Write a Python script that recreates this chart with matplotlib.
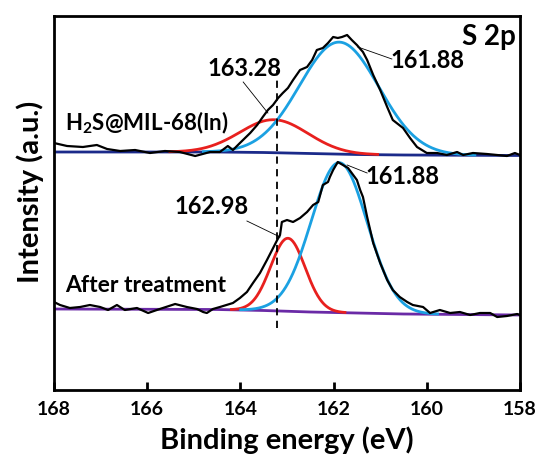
import numpy as np
import matplotlib
matplotlib.use("Agg")
import matplotlib.pyplot as plt

# raw S 2p spectra (binding energy in eV, intensity in a.u.)
top_be = [168.0, 167.72, 167.38, 167.08, 166.86, 166.58, 166.26, 165.94, 165.62, 165.30,
          164.97, 164.65, 164.44, 164.27, 164.16, 164.01, 163.79, 163.64, 163.52, 163.41,
          163.30, 163.19, 163.09, 162.98, 162.87, 162.72, 162.57, 162.46, 162.36, 162.23,
          162.12, 162.01, 161.91, 161.82, 161.71, 161.61, 161.50, 161.37, 161.28, 161.15,
          161.00, 160.85, 160.73, 160.51, 160.36, 160.21, 160.00, 159.78, 159.57, 159.35,
          159.22, 159.01, 158.71, 158.49, 158.28, 158.11, 158.0]
top_int = [247, 244, 243, 245, 241, 239, 240, 237, 239, 238,
           234, 238, 238, 244, 240, 247, 257, 265, 273, 280,
           285, 292, 297, 302, 310, 320, 323, 330, 340, 342,
           347, 353, 352, 353, 355, 350, 345, 338, 330, 315,
           300, 283, 270, 262, 252, 243, 237, 237, 235, 238,
           235, 237, 236, 235, 234, 237, 235]

bot_be = [168.0, 167.87, 167.66, 167.44, 167.23, 167.01, 166.84, 166.65, 166.48, 166.22,
          165.98, 165.73, 165.40, 165.15, 164.93, 164.80, 164.72, 164.59, 164.44, 164.16,
          164.01, 163.86, 163.73, 163.58, 163.43, 163.32, 163.21, 163.15, 163.11, 163.00,
          162.87, 162.72, 162.57, 162.44, 162.33, 162.23, 162.12, 162.08, 162.01, 161.91,
          161.80, 161.69, 161.50, 161.43, 161.37, 161.28, 161.15, 161.00, 160.85, 160.73,
          160.58, 160.42, 160.30, 160.08, 159.93, 159.72, 159.50, 159.29, 159.07, 158.86,
          158.64, 158.49, 158.28, 158.06, 158.0]
bot_int = [88, 85, 82, 83, 85, 83, 80, 85, 80, 82,
           77, 81, 86, 83, 81, 78, 77, 81, 83, 87,
           92, 98, 107, 117, 130, 140, 150, 155, 168, 170,
           168, 172, 178, 185, 188, 205, 208, 213, 220, 228,
           225, 222, 210, 200, 193, 173, 147, 127, 110, 100,
           93, 88, 85, 83, 77, 80, 77, 78, 75, 77,
           77, 73, 74, 76, 75]

# backgrounds
bg_be = [168.0, 164.5, 163.5, 162.5, 161.5, 160.5, 158.0]
top_bg = [238, 238, 237.5, 236.5, 235.5, 235, 234.5]
bot_bg = [81, 80.5, 79.5, 78, 77, 76, 75]

# fitted components: centre (eV), height, sigma (eV)
top_centers = [163.28, 161.88]
top_heights = [33, 112]
top_sigmas = [0.73, 0.85]
bot_centers = [162.98, 161.88]
bot_heights = [73, 150]
bot_sigmas = [0.37, 0.60]
fit_colors = ["#e8201e", "#1ba1e2"]

WEIGHT = "bold"
plt.rcParams["font.family"] = "Lato"
plt.rcParams["mathtext.fontset"] = "custom"
plt.rcParams["mathtext.rm"] = "Lato:bold"
plt.rcParams["mathtext.it"] = "Lato:bold"
plt.rcParams["mathtext.bf"] = "Lato:bold"

fig = plt.figure(figsize=(5.39, 4.62), dpi=100)
ax = fig.add_axes([54 / 539, 72 / 462, 466 / 539, 374 / 462])

grid = np.linspace(168, 158, 600)


def draw_spectrum(be, inten, bg, centers, heights, sigmas, bg_color):
    base = np.interp(grid, bg_be[::-1], bg[::-1])
    for c, h, s, col in zip(centers, heights, sigmas, fit_colors):
        peak = h * np.exp(-(grid - c) ** 2 / (2 * s ** 2))
        mask = peak > 0.3
        ax.plot(grid[mask], base[mask] + peak[mask], color=col, lw=2.0, zorder=3)
    ax.plot(bg_be, bg, color=bg_color, lw=2.0, zorder=2)
    ax.plot(be, inten, color="black", lw=1.6, zorder=4)


draw_spectrum(top_be, top_int, top_bg, top_centers, top_heights, top_sigmas, "#1b2a8a")
draw_spectrum(bot_be, bot_int, bot_bg, bot_centers, bot_heights, bot_sigmas, "#6a2aa6")

# reference line
ax.plot([163.21, 163.21], [62, 320], color="black", lw=1.3, ls=(0, (4, 3)), zorder=5)

# peak labels
ann = dict(fontsize=17, fontweight=WEIGHT, ha="center", va="center", zorder=6)
ax.text(163.92, 322, "163.28", **ann)
ax.plot([163.94, 163.41], [308, 277], color="black", lw=0.6)
ax.text(159.99, 330, "161.88", **ann)
ax.plot([161.48, 160.75], [343, 331], color="black", lw=0.6)
ax.text(160.53, 214, "161.88", **ann)
ax.plot([161.71, 161.28], [225, 217], color="black", lw=0.6)
ax.text(164.61, 183, "162.98", **ann)
ax.plot([163.86, 163.15], [169, 153], color="black", lw=0.6)

ax.text(167.77, 267, "H$_2$S@MIL-68(In)", fontsize=16, fontweight=WEIGHT, va="center", ha="left")
ax.text(167.77, 105, "After treatment", fontsize=16.5, fontweight=WEIGHT, va="center", ha="left")
ax.text(158.08, 353, "S 2p", fontsize=20, fontweight=WEIGHT, va="center", ha="right")

ax.set_xlim(168, 158)
ax.set_ylim(0, 374)
ax.set_xticks([168, 166, 164, 162, 160, 158])
ax.set_yticks([])
ax.tick_params(axis="x", direction="in", length=6, width=2, pad=8, labelsize=14)
for lab in ax.get_xticklabels():
    lab.set_fontweight(WEIGHT)
for sp in ax.spines.values():
    sp.set_linewidth(2)

ax.set_xlabel("Binding energy (eV)", fontsize=21, fontweight=WEIGHT, labelpad=6)
ax.set_ylabel("Intensity (a.u.)", fontsize=21, fontweight=WEIGHT)
ax.yaxis.set_label_coords(-0.022, 0.53)

fig.savefig("out.png", dpi=100)
